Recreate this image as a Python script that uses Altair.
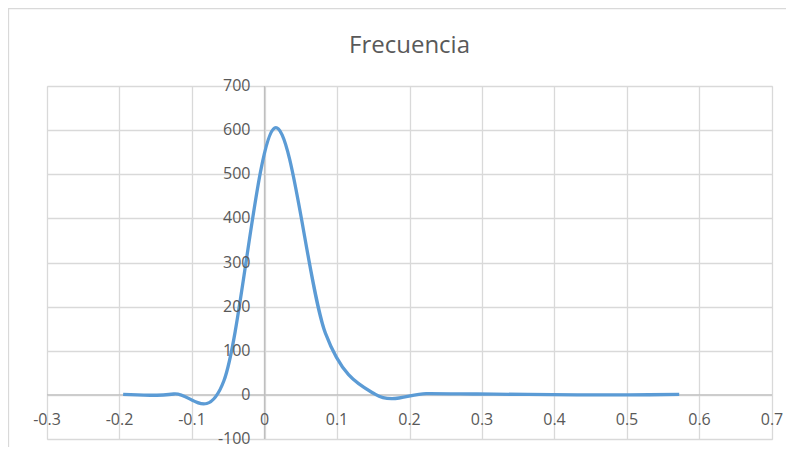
import altair as alt
import pandas as pd

# Data
x_values = [-0.195, -0.125, -0.056, 0.014, 0.084, 0.153, 0.223, 0.293, 0.363, 0.432, 0.502, 0.572]
frecuencia = [1, 2, 32, 605, 140, 1, 3, 2, 1, 0, 0, 1]

x_ticks = [-0.3, -0.2, -0.1, 0.0, 0.1, 0.2, 0.3, 0.4, 0.5, 0.6, 0.7]
x_tick_labels = ["-0.3", "-0.2", "-0.1", "0", "0.1", "0.2", "0.3", "0.4", "0.5", "0.6", "0.7"]
y_ticks = [-100, 0, 100, 200, 300, 400, 500, 600, 700]
y_tick_labels = ["-100", "0", "100", "200", "300", "400", "500", "600", "700"]
title_text = ["Frecuencia"]

FONT = "Segoe UI, Open Sans, sans-serif"
LABEL_COLOR = "#595959"
GRID = "#d9d9d9"
AXIS = "#bfbfbf"

W, H = 725, 353

series = pd.DataFrame({"x": x_values, "y": frecuencia})
xt = pd.DataFrame({"x": x_ticks, "label": x_tick_labels, "y": [0] * len(x_ticks)})
yt = pd.DataFrame({"y": y_ticks, "label": y_tick_labels, "x": [0.0] * len(y_ticks)})
tt = pd.DataFrame({"t": title_text})

xscale = alt.Scale(domain=[-0.3, 0.7], nice=False, zero=False)
yscale = alt.Scale(domain=[-100, 700], nice=False, zero=False)

xaxis = alt.Axis(grid=True, values=x_ticks, labels=False, ticks=False, domain=False,
                 title=None, gridColor=GRID, gridWidth=1.3)
yaxis = alt.Axis(grid=True, values=y_ticks, labels=False, ticks=False, domain=False,
                 title=None, gridColor=GRID, gridWidth=1.3)

base_grid = alt.Chart(series).mark_line(opacity=0).encode(
    x=alt.X("x:Q", scale=xscale, axis=xaxis),
    y=alt.Y("y:Q", scale=yscale, axis=yaxis),
)

border = alt.Chart(tt).mark_rect(fill=None, stroke=GRID, strokeWidth=1.3).encode(
    x=alt.value(-38.5), x2=alt.value(W + 60), y=alt.value(-77.5), y2=alt.value(H + 60)
)

title = alt.Chart(tt).mark_text(
    font=FONT, fontSize=24, color=LABEL_COLOR, align="center", baseline="alphabetic"
).encode(x=alt.value(W / 2), y=alt.value(-33), text="t:N")

zero_v = alt.Chart(pd.DataFrame({"x": [0.0], "y": [-100], "y2": [700]})).mark_rule(
    color=AXIS, strokeWidth=1.3
).encode(x=alt.X("x:Q", scale=xscale), y=alt.Y("y:Q", scale=yscale), y2="y2:Q")

zero_h = alt.Chart(pd.DataFrame({"x": [-0.3], "x2": [0.7], "y": [0]})).mark_rule(
    color=AXIS, strokeWidth=1.3
).encode(x=alt.X("x:Q", scale=xscale), x2="x2:Q", y=alt.Y("y:Q", scale=yscale))

line = alt.Chart(series).mark_line(
    interpolate="cardinal", tension=0, color="#5b9bd5", strokeWidth=3.3
).encode(x=alt.X("x:Q", scale=xscale), y=alt.Y("y:Q", scale=yscale))

xlab = alt.Chart(xt).mark_text(
    font=FONT, fontSize=16, color=LABEL_COLOR, align="center", baseline="middle", dy=25
).encode(x=alt.X("x:Q", scale=xscale), y=alt.Y("y:Q", scale=yscale), text="label:N")

ylab = alt.Chart(yt).mark_text(
    font=FONT, fontSize=16, color=LABEL_COLOR, align="right", baseline="middle", dx=-14
).encode(x=alt.X("x:Q", scale=xscale), y=alt.Y("y:Q", scale=yscale), text="label:N")

chart = alt.layer(base_grid, border, title, zero_v, zero_h, line, xlab, ylab).properties(
    width=W,
    height=H,
    padding={"left": 39, "top": 78, "right": 14, "bottom": 8},
    autosize=alt.AutoSizeParams(type="none"),
).configure_view(stroke=None).configure(background="white")

chart.save("out.html", embed_options={"renderer": "svg", "actions": False})
